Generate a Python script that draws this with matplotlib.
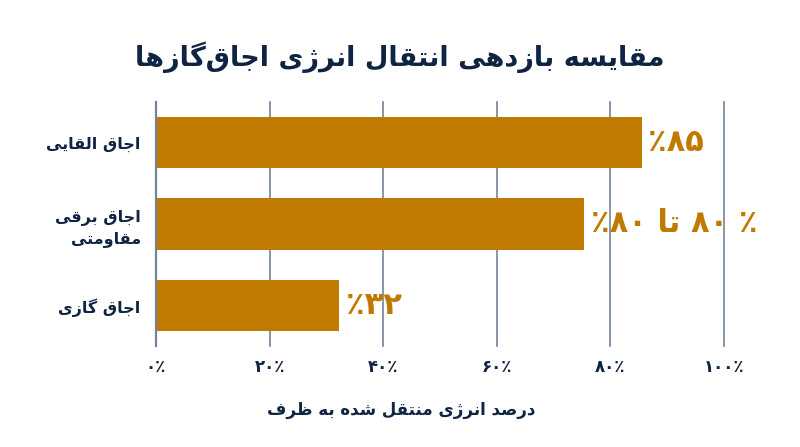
import re
import matplotlib
matplotlib.use("Agg")
import matplotlib.pyplot as plt

# ---------------- data ----------------
title_text = "مقایسه بازدهی انتقال انرژی اجاق\u200cگازها"
categories = ["اجاق القایی", "اجاق برقی\nمقاومتی", "اجاق گازی"]
values = [85.6, 75.4, 32.3]
value_labels = ["۸۵٪", "٪ ۸۰ تا ۸۰٪", "۳۲٪"]
x_ticks = [0, 20, 40, 60, 80, 100]
x_tick_labels = ["۰٪", "۲۰٪", "۴۰٪", "۶۰٪", "۸۰٪", "۱۰۰٪"]
x_label = "درصد انرژی منتقل شده به ظرف"

# ---------------- minimal Persian shaping ----------------
FORMS = {
    "\u0627": ("\uFE8D", "\uFE8E", None, None),
    "\u0622": ("\uFE81", "\uFE82", None, None),
    "\u0628": ("\uFE8F", "\uFE90", "\uFE91", "\uFE92"),
    "\u067E": ("\uFB56", "\uFB57", "\uFB58", "\uFB59"),
    "\u062A": ("\uFE95", "\uFE96", "\uFE97", "\uFE98"),
    "\u062B": ("\uFE99", "\uFE9A", "\uFE9B", "\uFE9C"),
    "\u062C": ("\uFE9D", "\uFE9E", "\uFE9F", "\uFEA0"),
    "\u0686": ("\uFB7A", "\uFB7B", "\uFB7C", "\uFB7D"),
    "\u062D": ("\uFEA1", "\uFEA2", "\uFEA3", "\uFEA4"),
    "\u062E": ("\uFEA5", "\uFEA6", "\uFEA7", "\uFEA8"),
    "\u062F": ("\uFEA9", "\uFEAA", None, None),
    "\u0630": ("\uFEAB", "\uFEAC", None, None),
    "\u0631": ("\uFEAD", "\uFEAE", None, None),
    "\u0632": ("\uFEAF", "\uFEB0", None, None),
    "\u0698": ("\uFB8A", "\uFB8B", None, None),
    "\u0633": ("\uFEB1", "\uFEB2", "\uFEB3", "\uFEB4"),
    "\u0634": ("\uFEB5", "\uFEB6", "\uFEB7", "\uFEB8"),
    "\u0635": ("\uFEB9", "\uFEBA", "\uFEBB", "\uFEBC"),
    "\u0636": ("\uFEBD", "\uFEBE", "\uFEBF", "\uFEC0"),
    "\u0637": ("\uFEC1", "\uFEC2", "\uFEC3", "\uFEC4"),
    "\u0638": ("\uFEC5", "\uFEC6", "\uFEC7", "\uFEC8"),
    "\u0639": ("\uFEC9", "\uFECA", "\uFECB", "\uFECC"),
    "\u063A": ("\uFECD", "\uFECE", "\uFECF", "\uFED0"),
    "\u0641": ("\uFED1", "\uFED2", "\uFED3", "\uFED4"),
    "\u0642": ("\uFED5", "\uFED6", "\uFED7", "\uFED8"),
    "\u06A9": ("\uFB8E", "\uFB8F", "\uFB90", "\uFB91"),
    "\u06AF": ("\uFB92", "\uFB93", "\uFB94", "\uFB95"),
    "\u0644": ("\uFEDD", "\uFEDE", "\uFEDF", "\uFEE0"),
    "\u0645": ("\uFEE1", "\uFEE2", "\uFEE3", "\uFEE4"),
    "\u0646": ("\uFEE5", "\uFEE6", "\uFEE7", "\uFEE8"),
    "\u0647": ("\uFEE9", "\uFEEA", "\uFEEB", "\uFEEC"),
    "\u0648": ("\uFEED", "\uFEEE", None, None),
    "\u06CC": ("\uFBFC", "\uFBFD", "\uFBFE", "\uFBFF"),
}


def _dual(c):
    return c in FORMS and FORMS[c][2] is not None


def shape(s):
    out = []
    n = len(s)
    for i, c in enumerate(s):
        if c not in FORMS:
            if c != "\u200c":
                out.append(c)
            continue
        prev = s[i - 1] if i > 0 else None
        nxt = s[i + 1] if i + 1 < n else None
        p = prev is not None and _dual(prev)
        q = _dual(c) and nxt is not None and nxt in FORMS
        iso, fin, ini, med = FORMS[c]
        if p and q:
            out.append(med)
        elif p:
            out.append(fin)
        elif q:
            out.append(ini)
        else:
            out.append(iso)
    return "".join(out)


def rtl(s):
    lines = []
    for line in s.split("\n"):
        shaped = shape(line)
        tokens = re.findall(r"[0-9\u06F0-\u06F9]+|.", shaped)
        lines.append("".join(reversed(tokens)))
    return "\n".join(lines)


# ---------------- styling ----------------
NAVY = "#0f2342"
BAR = "#c17a00"
GRID = "#74839a"
plt.rcParams["font.family"] = ["DejaVu Sans"]
plt.rcParams["font.weight"] = "bold"

fig = plt.figure(figsize=(8.0, 4.47), dpi=100)
ax = fig.add_axes([0.195, 0.226, 0.71, 0.546])

ypos = list(range(len(categories)))
ax.barh(ypos, values, height=0.63, color=BAR, zorder=3)
ax.set_ylim(len(categories) - 0.5, -0.5)
ax.set_xlim(0, 100)

for y, v, lab in zip(ypos, values, value_labels):
    ax.text(v + 1.1, y, rtl(lab), color=BAR, fontsize=22, fontweight="bold",
            ha="left", va="center", zorder=4)

ax.set_yticks(ypos)
ax.set_yticklabels([rtl(c) for c in categories], fontsize=11.5,
                   fontweight="bold", color=NAVY, multialignment="right",
                   linespacing=1.4)
ax.tick_params(axis="y", length=0, pad=11)

ax.set_xticks(x_ticks)
ax.set_xticklabels(x_tick_labels, fontsize=12, fontweight="bold", color=NAVY)
ax.tick_params(axis="x", length=0, pad=9)
ax.grid(axis="x", color=GRID, linewidth=1.2, zorder=0)
ax.grid(axis="y", visible=False)
for gl in ax.get_xgridlines():
    gl.set_clip_on(False)

for side in ["top", "right", "bottom"]:
    ax.spines[side].set_visible(False)
ax.spines["left"].set_color(GRID)
ax.spines["left"].set_linewidth(1.6)
ax.spines["left"].set_zorder(5)

fig.text(0.5, 0.872, rtl(title_text), ha="center", va="center",
         fontsize=19.5, fontweight="bold", color=NAVY)
fig.text(0.502, 0.083, rtl(x_label), ha="center", va="center",
         fontsize=12, fontweight="bold", color=NAVY)

fig.savefig("out.png", dpi=100, facecolor="white")
